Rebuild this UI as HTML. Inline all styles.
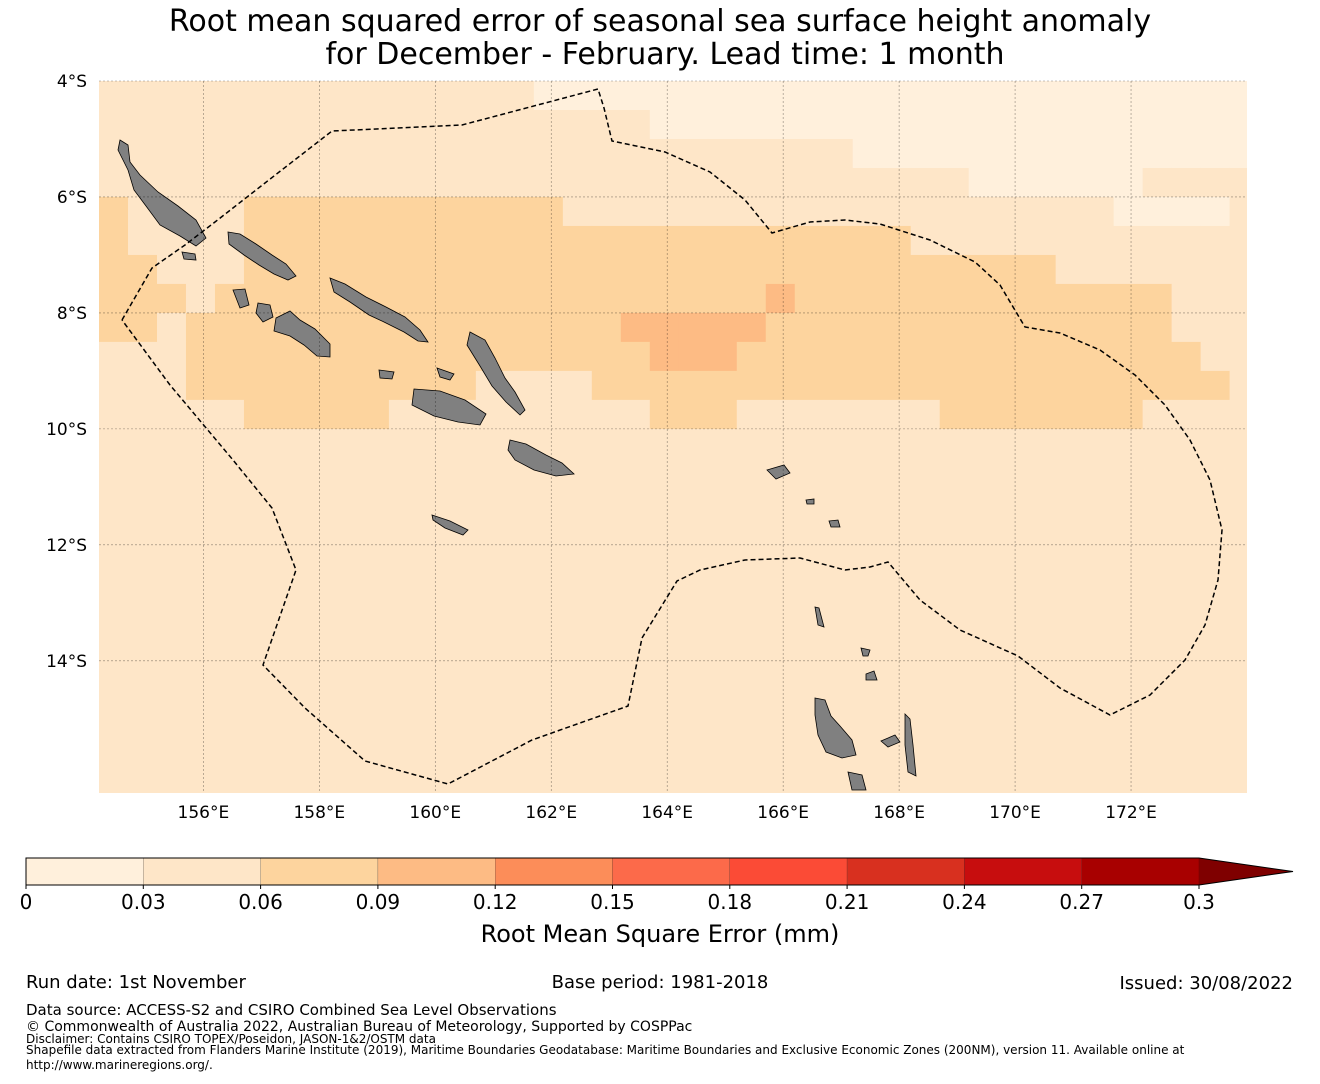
<!DOCTYPE html>
<html><head><meta charset="utf-8"><style>
body{margin:0;background:#fff;width:1320px;height:1080px;overflow:hidden;font-family:"DejaVu Sans","Liberation Sans",sans-serif}
svg text{font-family:"DejaVu Sans","Liberation Sans",sans-serif}
</style></head><body>
<svg id="fig" width="1320" height="1080" xmlns="http://www.w3.org/2000/svg">
<text x="660" y="31" font-size="30" text-anchor="middle">Root mean squared error of seasonal sea surface height anomaly</text>
<text x="665" y="64" font-size="30" text-anchor="middle">for December - February. Lead time: 1 month</text>
<g id="map"></g>
<g id="cbar"></g>
<text x="660" y="942" font-size="24" text-anchor="middle">Root Mean Square Error (mm)</text>
<g font-size="18">
<text x="26" y="988">Run date: 1st November</text>
<text x="660" y="988" text-anchor="middle">Base period: 1981-2018</text>
<text x="1293" y="989" text-anchor="end">Issued: 30/08/2022</text>
<text x="26" y="1015" font-size="15">Data source: ACCESS-S2 and CSIRO Combined Sea Level Observations</text>
<text x="26" y="1031" font-size="14">© Commonwealth of Australia 2022, Australian Bureau of Meteorology, Supported by COSPPac</text>
<text x="26" y="1043" font-size="12">Disclaimer: Contains CSIRO TOPEX/Poseidon, JASON-1&amp;2/OSTM data</text>
<text x="26" y="1054" font-size="12">Shapefile data extracted from Flanders Marine Institute (2019), Maritime Boundaries Geodatabase: Maritime Boundaries and Exclusive Economic Zones (200NM), version 11. Available online at</text>
<text x="26" y="1069" font-size="12">http://www.marineregions.org/.</text>
</g>
</svg>
<script>
// ---- data ----
const lonMin = 154.2, lonMax = 174.0, latMin = 4.0, latMax = 16.28; // degrees (S latitudes positive)
const cellDeg = 0.5;
const levels = [0,0.03,0.06,0.09,0.12,0.15,0.18,0.21,0.24,0.27,0.3];
const levelColors = ["#fff0dc","#fee6c8","#fdd49e","#fdbb84","#fc8d59","#fc6a4a","#fb4b36","#d8301f","#c70d0e","#a80000"];
const extendColor = "#7f0000";
const rmseRows = [
"1111111111111110000000000000000000000000",
"1111111111111111111000000000000000000000",
"1111111111111111111111111100000000000000",
"1111111111111111111111111111110000001111",
"2111122222222222111111111111111111100001",
"2111122222222222222222222222111111111111",
"2211122222222222222222222222222221111111",
"2221222222222222222222232222222222222111",
"2212222222222222223333322222222222222111",
"1112222222222222222333222222222222222211",
"1112222222222111122222222222222222222221",
"1111122222111111111222111111122222221111",
"1111111111111111111111111111111111111111",
"1111111111111111111111111111111111111111",
"1111111111111111111111111111111111111111",
"1111111111111111111111111111111111111111",
"1111111111111111111111111111111111111111",
"1111111111111111111111111111111111111111",
"1111111111111111111111111111111111111111",
"1111111111111111111111111111111111111111",
"1111111111111111111111111111111111111111",
"1111111111111111111111111111111111111111",
"1111111111111111111111111111111111111111",
"1111111111111111111111111111111111111111",
"1111111111111111111111111111111111111111"
];
const lonTicks = [156,158,160,162,164,166,168,170,172];
const latTicks = [4,6,8,10,12,14];

// ---- axes ----
const X0=99,X1=1247,Y0=81,Y1=793;
const xOf = lon => X0 + (lon-lonMin)/(lonMax-lonMin)*(X1-X0);
const yOf = lat => Y0 + (lat-latMin)/(latMax-latMin)*(Y1-Y0);
const NS="http://www.w3.org/2000/svg";
function mk(tag, attrs, parent){const e=document.createElementNS(NS,tag);for(const k in attrs)e.setAttribute(k,attrs[k]);parent.appendChild(e);return e;}
const map=document.getElementById('map');
const defs=mk('defs',{},map);
const cp=mk('clipPath',{id:'clip'},defs);
mk('rect',{x:X0,y:Y0,width:X1-X0,height:Y1-Y0},cp);
const g=mk('g',{'clip-path':'url(#clip)'},map);


rmseRows.forEach((row,i)=>{
  for(let j=0;j<row.length;j++){
    const lv=+row[j];
    const lon=lonMin+j*cellDeg, lat=latMin+i*cellDeg;
    const r=mk('rect',{x:xOf(lon),y:yOf(lat),width:xOf(lon+cellDeg)-xOf(lon)+0.5,height:yOf(lat+cellDeg)-yOf(lat)+0.5,fill:levelColors[lv]},g);
    
    
  }
});
// land (approximate outlines)
const land=[
"120,140 128,145 130,162 140,175 158,192 178,206 196,220 206,238 196,246 180,236 160,225 146,206 134,190 128,170 118,150",
"228,232 240,234 256,244 272,255 286,264 296,276 288,280 274,274 259,265 244,255 229,244",
"233,290 245,289 249,305 240,308",
"258,303 270,305 273,317 263,322 256,313",
"276,318 290,311 300,320 315,329 330,344 330,357 317,356 304,345 290,336 274,331",
"330,278 345,284 366,297 386,307 405,317 420,330 428,342 418,341 404,332 384,322 369,315 350,302 334,292",
"470,332 485,340 495,358 505,378 515,392 525,410 520,415 506,402 492,386 480,366 467,345",
"414,389 440,391 465,400 486,414 480,425 458,422 434,416 412,405",
"510,440 526,444 546,455 562,463 574,474 556,476 534,470 515,460 508,450",
"379,370 394,372 392,379 380,378",
"437,368 454,374 450,380 440,377",
"432,515 450,521 468,530 463,535 445,528 433,520",
"182,252 195,254 196,260 184,259",
"815,698 825,700 831,716 840,726 852,740 856,755 842,758 826,752 818,735 815,715",
"881,741 895,735 900,742 888,747",
"905,714 910,719 913,745 916,776 908,772 905,745",
"848,772 862,775 866,790 852,790",
"767,470 784,465 790,473 776,479",
"829,521 838,520 840,527 831,527",
"861,648 870,650 868,656 863,656",
"866,674 874,671 877,680 866,680",
"806,500 814,499 814,504 807,504",
"815,607 819,608 824,627 818,625"
];
land.forEach(p=>{const e=mk('polygon',{points:p,fill:'#808080',stroke:'#000','stroke-width':0.8},g);
 
 });
// gridlines
lonTicks.forEach(l=>{const x=xOf(l);
 const e=mk('line',{x1:x,x2:x,y1:Y0,y2:Y1,stroke:'#000','stroke-opacity':0.45,'stroke-width':0.6,'stroke-dasharray':'2,2'},map);
 
 const t=mk('text',{x:x,y:Y1+25,'font-size':17,'text-anchor':'middle'},map);t.textContent=l+'°E';
 });
latTicks.forEach(l=>{const y=yOf(l);
 const e=mk('line',{x1:X0,x2:X1,y1:y,y2:y,stroke:'#000','stroke-opacity':0.45,'stroke-width':0.6,'stroke-dasharray':'2,2'},map);
 
 const t=mk('text',{x:X0-12,y:y+6,'font-size':17,'text-anchor':'end'},map);t.textContent=l+'°S';
 });
// EEZ boundary
const eez="122,320 152,268 185,245 215,222 265,183 332,131 462,125 598,89 604,108 612,141 665,152 710,172 745,200 772,233 810,222 845,220 880,224 930,240 975,262 1000,285 1025,327 1060,333 1100,350 1135,375 1165,405 1190,440 1210,480 1222,530 1218,580 1205,625 1185,660 1150,695 1110,715 1060,688 1018,656 960,630 920,600 888,562 870,567 845,570 800,558 745,560 700,570 677,581 642,638 628,706 532,740 448,784 365,761 305,708 263,665 296,570 272,508 233,460 170,385 122,320";
const eb=mk('polyline',{points:eez,fill:'none',stroke:'#000','stroke-width':1.5,'stroke-dasharray':'5,3'},map);

// colorbar
const cb=document.getElementById('cbar');
const CB0=26,CB1=1199,CBY=858,CBH=27;
const cx=v=>CB0+(v-levels[0])/(levels[levels.length-1]-levels[0])*(CB1-CB0);
levelColors.forEach((c,i)=>{const r=mk('rect',{x:cx(levels[i]),y:CBY,width:cx(levels[i+1])-cx(levels[i]),height:CBH,fill:c,stroke:'#000','stroke-width':0.4,'stroke-opacity':0.4},cb);
 });
const tri=mk('polygon',{points:`${CB1},${CBY} 1293,${CBY+CBH/2} ${CB1},${CBY+CBH}`,fill:extendColor},cb);

const ol=mk('polygon',{points:`${CB0},${CBY} ${CB1},${CBY} 1293,${CBY+CBH/2} ${CB1},${CBY+CBH} ${CB0},${CBY+CBH}`,fill:'none',stroke:'#000','stroke-width':1},cb);

levels.forEach(v=>{const x=cx(v);
 mk('line',{x1:x,x2:x,y1:CBY+CBH,y2:CBY+CBH+4,stroke:'#000'},cb);
 const t=mk('text',{x:x,y:CBY+CBH+24,'font-size':20,'text-anchor':'middle'},cb);
 t.textContent=(v===0?'0':(+v.toFixed(2)).toString());
 });
</script>
</body></html>
